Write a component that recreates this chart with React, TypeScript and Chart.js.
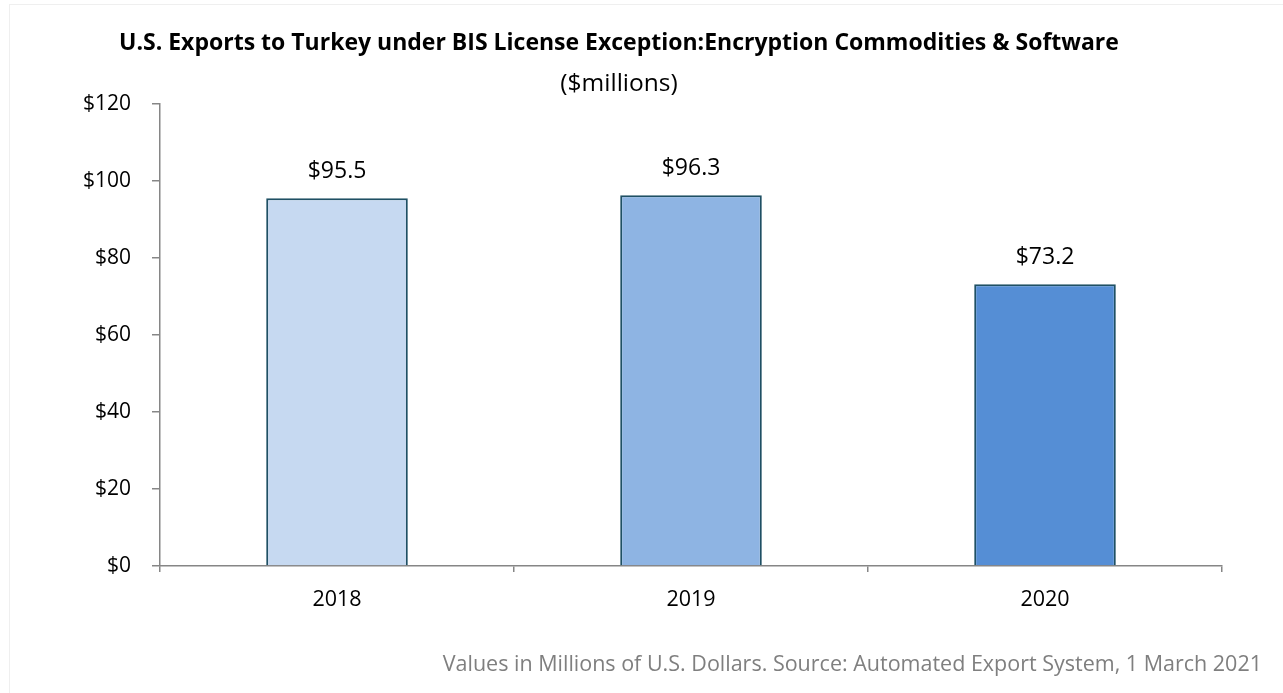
import React, { useEffect, useRef } from "react";
import { Chart, registerables } from "chart.js";

Chart.register(...registerables);

const categories = ["2018", "2019", "2020"];
const values = [95.5, 96.3, 73.2];
const barColors = ["#C6D9F1", "#8EB4E3", "#558ED5"];
const yMin = 0;
const yMax = 120;
const yStep = 20;
const titleText =
  "U.S. Exports to Turkey under BIS License Exception:Encryption Commodities & Software";
const subtitleText = "($millions)";
const footnoteText =
  "Values in Millions of U.S. Dollars. Source: Automated Export System, 1 March 2021";

const FONT = '"Open Sans", "Noto Sans", sans-serif';

const textPlugin = {
  id: "textPlugin",
  afterDraw(chart: any) {
    const ctx = chart.ctx;
    ctx.save();
    ctx.fillStyle = "#000000";
    ctx.textAlign = "center";
    ctx.textBaseline = "middle";
    ctx.font = `bold 23px ${FONT}`;
    ctx.fillText(titleText, 609, 38);
    ctx.font = `24.5px ${FONT}`;
    ctx.fillText(subtitleText, 609, 79);

    // value labels
    const meta = chart.getDatasetMeta(0);
    ctx.font = `23px ${FONT}`;
    ctx.textBaseline = "middle";
    meta.data.forEach((bar: any, i: number) => {
      ctx.fillText("$" + values[i].toFixed(1), bar.x, bar.y - 27);
    });

    // footnote
    ctx.fillStyle = "#7F7F7F";
    ctx.textAlign = "right";
    ctx.font = `21.5px ${FONT}`;
    ctx.fillText(footnoteText, chart.width - 21, 660);
    ctx.restore();
  },
};

export default function App() {
  const canvasRef = useRef<HTMLCanvasElement>(null);

  useEffect(() => {
    if (!canvasRef.current) return;
    const chart = new Chart(canvasRef.current, {
      type: "bar",
      data: {
        labels: categories,
        datasets: [
          {
            data: values,
            backgroundColor: barColors,
            borderColor: "#1F5064",
            borderWidth: 2,
            barPercentage: 0.4,
            categoryPercentage: 1,
          },
        ],
      },
      options: {
        animation: false,
        responsive: false,
        maintainAspectRatio: false,
        layout: { padding: { left: 6, right: 61, top: 99, bottom: 0 } },
        plugins: {
          legend: { display: false },
          title: { display: false },
          tooltip: { enabled: false },
        },
        scales: {
          x: {
            offset: true,
            grid: {
              offset: true,
              drawOnChartArea: false,
              drawTicks: true,
              tickLength: 6,
              color: "#868686",
              lineWidth: 1.5,
            },
            border: { display: true, color: "#868686", width: 1.5 },
            ticks: {
              color: "#000000",
              padding: 15,
              font: { family: FONT, size: 21.5 },
            },
            afterFit(scale: any) {
              scale.height = 127;
            },
          },
          y: {
            min: yMin,
            max: yMax,
            grid: {
              drawOnChartArea: false,
              drawTicks: true,
              tickLength: 8,
              color: "#868686",
              lineWidth: 1.5,
            },
            border: { display: true, color: "#868686", width: 1.5 },
            ticks: {
              stepSize: yStep,
              color: "#000000",
              padding: 21,
              font: { family: FONT, size: 21 },
              callback: (v: any) => "$" + v,
            },
            afterFit(scale: any) {
              scale.width = 144;
            },
          },
        },
      },
      plugins: [textPlugin],
    });
    return () => chart.destroy();
  }, []);

  return (
    <div
      style={{
        position: "absolute",
        left: 9,
        top: 4,
        width: 1290,
        height: 700,
        border: "1px solid #EFEFEF",
        background: "#ffffff",
      }}
    >
      <canvas
        ref={canvasRef}
        width={1273}
        height={688}
        style={{ display: "block", width: 1273, height: 688 }}
      />
    </div>
  );
}
